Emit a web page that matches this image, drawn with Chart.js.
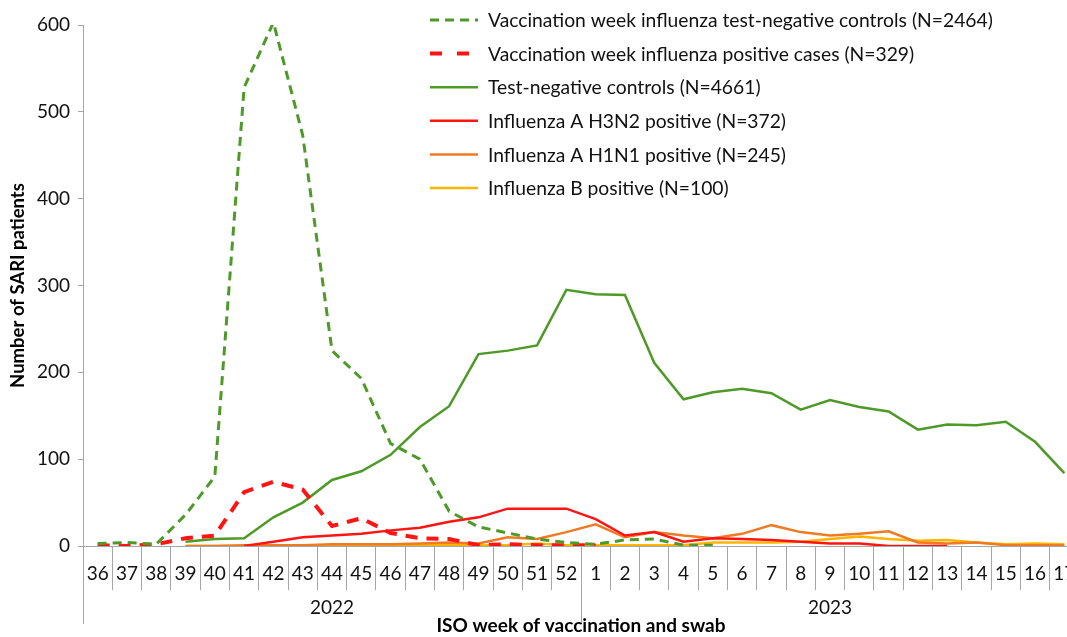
<!DOCTYPE html>
<html>
<head>
<meta charset="utf-8">
<script src="https://cdn.jsdelivr.net/npm/chart.js@4"></script>
<style>
  html, body { margin: 0; padding: 0; background: #fff; overflow: hidden; }
  #wrap { width: 1085px; height: 637px; }
</style>
</head>
<body>
<div id="wrap"><canvas id="grafica"></canvas></div>
<script>
// ISO weeks 36-52 of 2022, then 1-17 of 2023
const weeks = ['36','37','38','39','40','41','42','43','44','45','46','47','48','49','50','51','52',
               '1','2','3','4','5','6','7','8','9','10','11','12','13','14','15','16','17'];
const years = ['2022', '2023'];
const yTicks = [0, 100, 200, 300, 400, 500, 600];

const vaccControls = [3, 4, 2, 36, 80, 528, 603, 473, 225, 193, 118, 100, 40, 22, 15, 8, 4,
                      2, 7, 8, 1, 1, null, null, null, null, null, null, null, null, null, null, null, null];
const vaccPositive = [1, 0, 2, 9, 12, 62, 74, 65, 23, 32, 15, 9, 8, 1, 2, 1, 1,
                      1, null, null, null, null, null, null, null, null, null, null, null, null, null, null, null, null];
const testNegative = [null, null, null, 5, 8, 9, 33, 50, 76, 86, 105, 137, 161, 221, 225, 231, 295,
                      290, 289, 211, 169, 177, 181, 176, 157, 168, 160, 155, 134, 140, 139, 143, 120, 84];
const h3n2 = [null, null, null, null, null, 0, 5, 10, 12, 14, 18, 21, 28, 33, 43, 43, 43,
              31, 12, 16, 5, 9, 8, 7, 5, 3, 3, 0, 0, 0, null, null, null, null];
const h1n1 = [null, null, null, 0, 0, 1, 1, 1, 2, 2, 2, 3, 4, 3, 10, 8, 16,
              25, 10, 16, 12, 9, 14, 24, 16, 12, 14, 17, 4, 3, 4, 1, 1, 1];
const fluB = [null, null, null, 0, 0, 0, 0, 0, 0, 1, 1, 1, 1, 1, 1, 3, 1,
              1, 1, 1, 1, 4, 4, 4, 5, 8, 11, 8, 6, 7, 4, 2, 3, 2];

const FONT = 'Lato, "Open Sans", sans-serif';

// leyenda a mano, arriba a la derecha dentro del area
const leyenda = {
    id: 'leyenda',
    afterDraw(chart) {
        const ctx = chart.ctx;
        ctx.save();
        ctx.font = '19.3px ' + FONT;
        ctx.textBaseline = 'middle';
        ctx.fillStyle = '#111';
        chart.data.datasets.forEach((ds, i) => {
            const y = 20 + i * 33.6;
            ctx.beginPath();
            ctx.strokeStyle = ds.borderColor;
            ctx.lineWidth = ds.borderWidth;
            ctx.setLineDash(ds.legendDash || ds.borderDash || []);
            ctx.moveTo(430, y);
            ctx.lineTo(478, y);
            ctx.stroke();
            ctx.fillText(ds.label, 488, y + 1);
        });
        ctx.restore();
    }
};

const ctx = document.getElementById('grafica').getContext('2d');

new Chart(ctx, {
    type: 'line',
    data: {
        labels: weeks,
        datasets: [
            { label: 'Vaccination week influenza test-negative controls (N=2464)', data: vaccControls,
              borderColor: '#4E9A28', borderWidth: 3, borderDash: [9, 6] },
            { label: 'Vaccination week influenza positive cases (N=329)', data: vaccPositive,
              borderColor: '#FF1414', borderWidth: 4, borderDash: [12, 9], legendDash: [12, 15] },
            { label: 'Test-negative controls (N=4661)', data: testNegative,
              borderColor: '#4E9A28', borderWidth: 2.5 },
            { label: 'Influenza A H3N2 positive (N=372)', data: h3n2,
              borderColor: '#FF1414', borderWidth: 2.5 },
            { label: 'Influenza A H1N1 positive (N=245)', data: h1n1,
              borderColor: '#EE7A24', borderWidth: 2.5 },
            { label: 'Influenza B positive (N=100)', data: fluB,
              borderColor: '#FFB400', borderWidth: 2.5 }
        ]
    },
    options: {
        responsive: true,
        maintainAspectRatio: false,
        animation: false,
        layout: { padding: { top: 25, right: 6, left: 0, bottom: 0 } },
        elements: {
            point: { radius: 0 },
            line: { tension: 0, fill: false, borderCapStyle: 'butt' }
        },
        scales: {
            x: {
                type: 'category',
                position: 'bottom',
                offset: true,
                grid: { offset: true, drawOnChartArea: false, tickLength: 44, color: '#a6a6a6' },
                border: { display: true, color: '#a6a6a6' },
                ticks: { autoSkip: false, maxRotation: 0, padding: -28, color: '#111',
                         font: { family: FONT, size: 19 } },
                afterFit: (s) => { s.height = 44; }
            },
            year: {
                type: 'category',
                position: 'bottom',
                labels: years,
                offset: true,
                grid: { offset: true, drawOnChartArea: false, tickLength: 34, color: '#a6a6a6' },
                border: { display: false },
                ticks: { maxRotation: 0, padding: -28, color: '#111',
                         font: { family: FONT, size: 19 } },
                title: {
                    display: true,
                    text: 'ISO week of vaccination and swab',
                    color: '#000',
                    padding: { top: 0, bottom: 0 },
                    font: { family: FONT, size: 19, weight: 'bold' }
                },
                afterFit: (s) => { s.height = 47; }
            },
            y: {
                min: 0,
                max: 600,
                afterBuildTicks: (s) => { s.ticks = yTicks.map(v => ({ value: v })); },
                grid: { drawOnChartArea: false, tickLength: 5, color: '#a6a6a6' },
                border: { display: true, color: '#a6a6a6' },
                ticks: { padding: 8, color: '#111', font: { family: FONT, size: 19 } },
                title: {
                    display: true,
                    text: 'Number of SARI patients',
                    color: '#000',
                    padding: { top: 7, bottom: 0 },
                    font: { family: FONT, size: 18.5, weight: 'bold' }
                },
                afterFit: (s) => { s.width = 83; }
            }
        },
        plugins: {
            legend: { display: false },
            tooltip: { enabled: false }
        }
    },
    plugins: [leyenda]
});
</script>
</body>
</html>
